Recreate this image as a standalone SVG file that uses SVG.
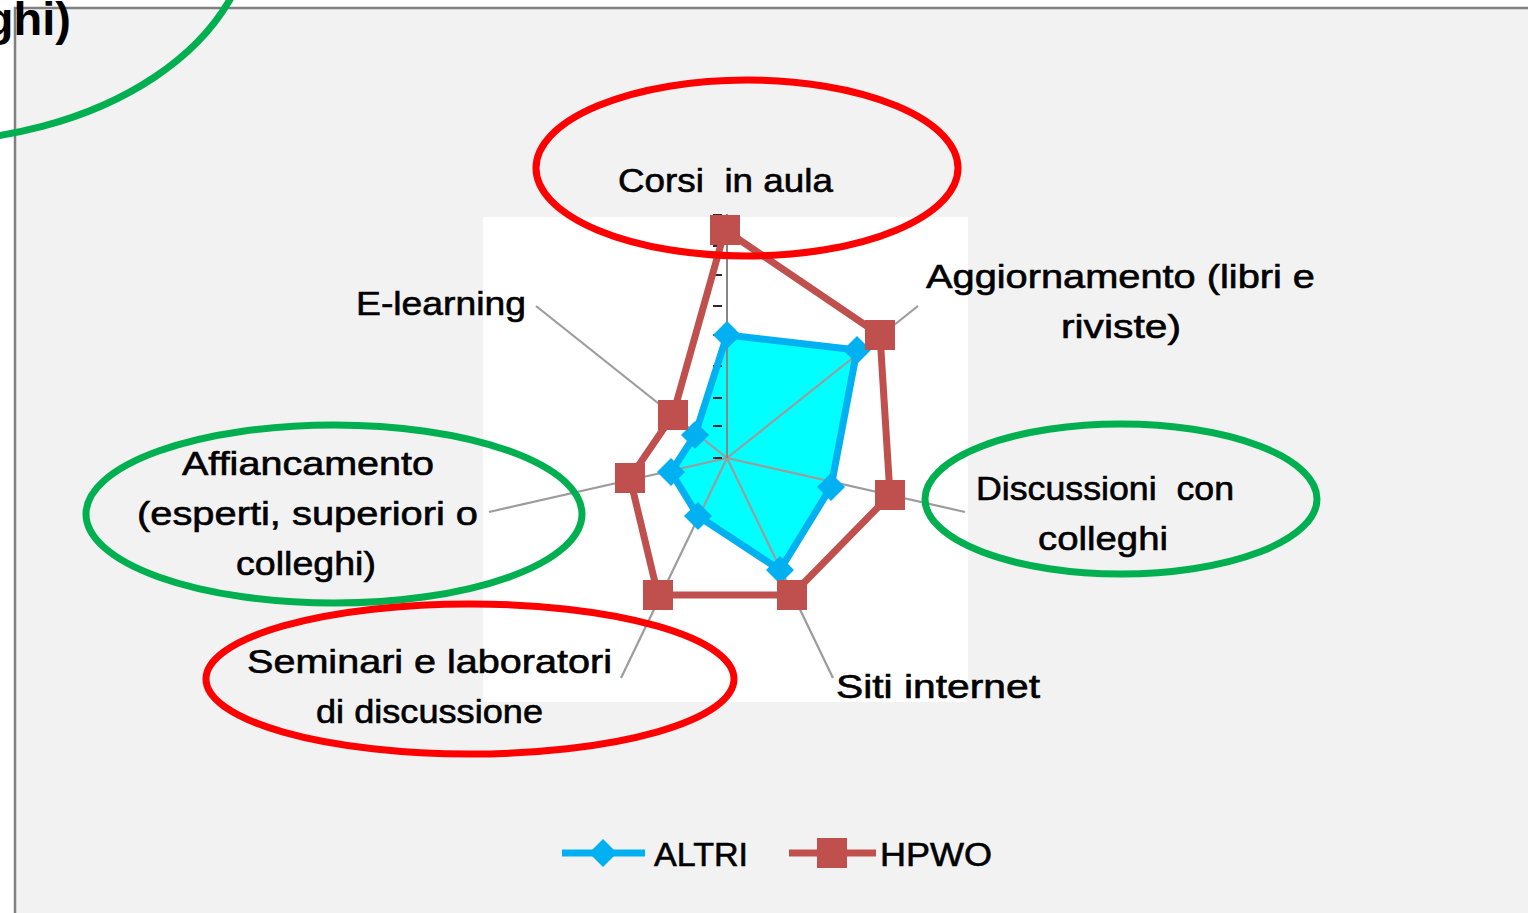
<svg xmlns="http://www.w3.org/2000/svg" width="1528" height="913" viewBox="0 0 1528 913">
<style>
.lbl{font-family:"Liberation Sans",Arial,sans-serif;font-size:33px;fill:#000;stroke:#000;stroke-width:0.6;}
.spoke{stroke:#9c9c9c;stroke-width:2.2;fill:none;}
.ell{fill:none;stroke-width:7;}
.red{stroke:#ff0000;}
.grn{stroke:#00b050;}
</style>
<defs>
<rect id="sq" x="-15" y="-15" width="30" height="30" fill="#c0504d"/>
<path id="dia" d="M0,-14 L14,0 L0,14 L-14,0 Z" fill="#00b0f0"/>
</defs>
<rect x="0" y="0" width="1528" height="913" fill="#ffffff"/>
<rect x="15" y="8" width="1513" height="905" fill="#f2f2f2"/>
<path d="M15,913 V8 H1528" fill="none" stroke="#808080" stroke-width="2.5"/>
<text x="71" y="35" text-anchor="end" font-family="Liberation Sans,Arial,sans-serif" font-weight="bold" font-size="47" fill="#000">ghi)</text>

<rect id="plot-area" x="483" y="217" width="485" height="485" fill="#ffffff"/>

<g id="series-altri-fill">
<polygon points="727,335 857,350 831,487 780,570 698,516 671,472 695,435" fill="#00ffff"/>
</g>

<g id="connectors">
<line class="spoke" x1="727" y1="458" x2="918" y2="306"/>
<line class="spoke" x1="727" y1="458" x2="965" y2="512"/>
<line class="spoke" x1="727" y1="458" x2="833" y2="678"/>
<line class="spoke" x1="727" y1="458" x2="621" y2="678"/>
<line class="spoke" x1="727" y1="458" x2="489" y2="512"/>
<line class="spoke" x1="727" y1="458" x2="536" y2="306"/>
<line x1="727" y1="458" x2="727" y2="214" stroke="#868686" stroke-width="2"/>
<g stroke="#3a2030" stroke-width="2">
<line x1="713" y1="215" x2="722" y2="215"/>
<line x1="713" y1="246" x2="722" y2="246"/>
<line x1="713" y1="275" x2="722" y2="275"/>
<line x1="713" y1="306" x2="722" y2="306"/>
<line x1="713" y1="335" x2="722" y2="335"/>
<line x1="713" y1="366" x2="722" y2="366"/>
<line x1="713" y1="398" x2="722" y2="398"/>
<line x1="713" y1="426" x2="722" y2="426"/>
<line x1="713" y1="458" x2="722" y2="458"/>
</g>
</g>

<g id="series-altri">
<polygon points="727,335 857,350 831,487 780,570 698,516 671,472 695,435" fill="none" stroke="#00b0f0" stroke-width="7" stroke-linejoin="round"/>
<use href="#dia" x="727" y="335"/>
<use href="#dia" x="857" y="350"/>
<use href="#dia" x="831" y="487"/>
<use href="#dia" x="780" y="570"/>
<use href="#dia" x="698" y="516"/>
<use href="#dia" x="671" y="472"/>
<use href="#dia" x="695" y="435"/>
</g>

<g id="series-hpwo">
<polygon points="725,230 880,335 890,495 792,595 658,595 630,478 673,415" fill="none" stroke="#c0504d" stroke-width="7" stroke-linejoin="round"/>
<use href="#sq" x="725" y="230"/>
<use href="#sq" x="880" y="335"/>
<use href="#sq" x="890" y="495"/>
<use href="#sq" x="792" y="595"/>
<use href="#sq" x="658" y="595"/>
<use href="#sq" x="630" y="478"/>
<use href="#sq" x="673" y="415"/>
</g>

<g id="label-corsi"><text class="lbl" x="618" y="192" textLength="215" lengthAdjust="spacingAndGlyphs" xml:space="preserve">Corsi  in aula</text></g>
<g id="label-aggiornamento">
<text class="lbl" x="926" y="288" textLength="389" lengthAdjust="spacingAndGlyphs">Aggiornamento (libri e</text>
<text class="lbl" x="1061" y="338" textLength="120" lengthAdjust="spacingAndGlyphs">riviste)</text>
</g>
<g id="label-discussioni">
<text class="lbl" x="976" y="500" textLength="258" lengthAdjust="spacingAndGlyphs" xml:space="preserve">Discussioni  con</text>
<text class="lbl" x="1038" y="550" textLength="130" lengthAdjust="spacingAndGlyphs">colleghi</text>
</g>
<g id="label-siti"><text class="lbl" x="836" y="698" textLength="204" lengthAdjust="spacingAndGlyphs">Siti internet</text></g>
<g id="label-seminari">
<text class="lbl" x="247" y="673" textLength="365" lengthAdjust="spacingAndGlyphs">Seminari e laboratori</text>
<text class="lbl" x="316" y="723" textLength="227" lengthAdjust="spacingAndGlyphs">di discussione</text>
</g>
<g id="label-affiancamento">
<text class="lbl" x="182" y="475" textLength="252" lengthAdjust="spacingAndGlyphs">Affiancamento</text>
<text class="lbl" x="137" y="525" textLength="341" lengthAdjust="spacingAndGlyphs">(esperti, superiori o</text>
<text class="lbl" x="236" y="575" textLength="140" lengthAdjust="spacingAndGlyphs">colleghi)</text>
</g>
<g id="label-elearning"><text class="lbl" x="356" y="315" textLength="170" lengthAdjust="spacingAndGlyphs">E-learning</text></g>

<g id="legend">
<line x1="562" y1="853" x2="645" y2="853" stroke="#00b0f0" stroke-width="7"/>
<use href="#dia" x="603" y="853"/>
<text class="lbl" x="654" y="866" textLength="94" lengthAdjust="spacingAndGlyphs">ALTRI</text>
<line x1="789" y1="853" x2="876" y2="853" stroke="#c0504d" stroke-width="7"/>
<use href="#sq" x="832" y="853"/>
<text class="lbl" x="880" y="866" textLength="112" lengthAdjust="spacingAndGlyphs">HPWO</text>
</g>

<g id="highlights">
<ellipse class="ell red" cx="747" cy="168" rx="211" ry="88"/>
<ellipse class="ell grn" cx="334" cy="514" rx="248" ry="89"/>
<ellipse class="ell grn" cx="1121" cy="499" rx="196" ry="75"/>
<ellipse class="ell red" cx="470" cy="679" rx="264" ry="75"/>
<ellipse class="ell grn" cx="-80" cy="-80" rx="332" ry="222"/>
</g>
</svg>
